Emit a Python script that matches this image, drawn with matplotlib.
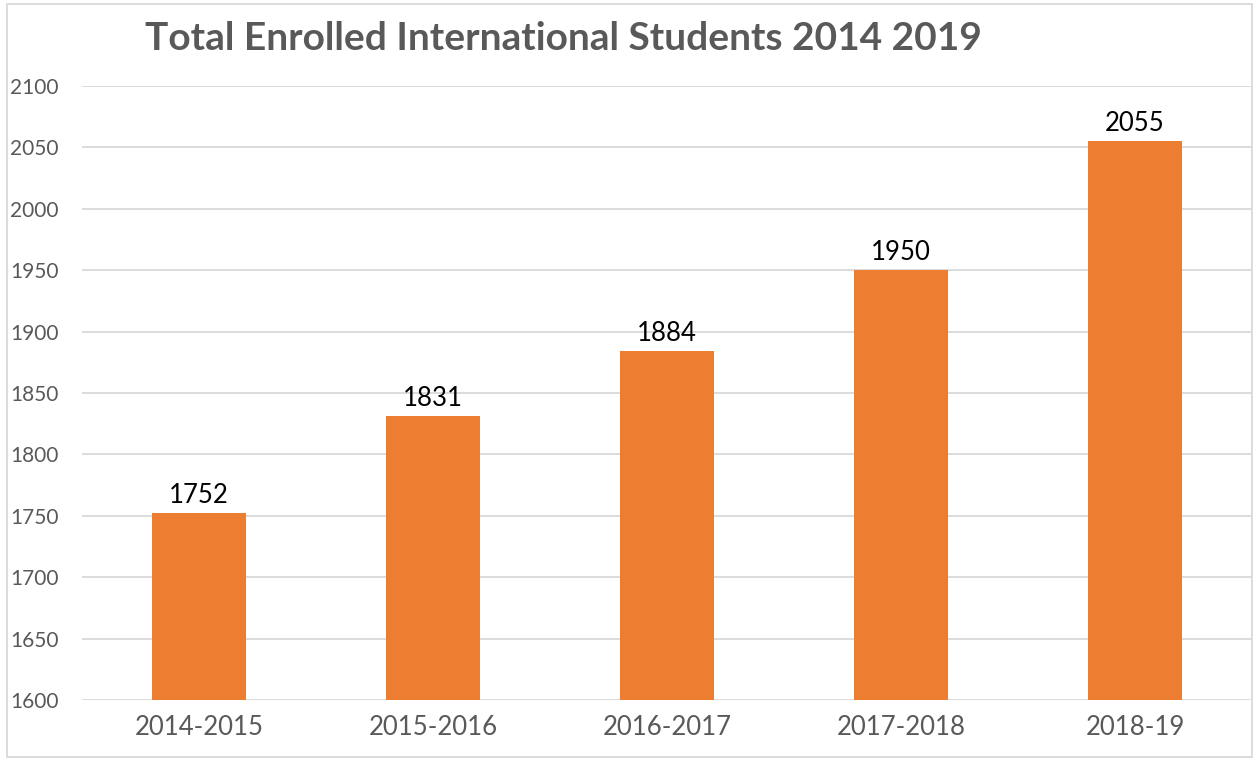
import matplotlib
matplotlib.use("Agg")
import matplotlib.pyplot as plt
from matplotlib.patches import Rectangle

categories = ["2014-2015", "2015-2016", "2016-2017", "2017-2018", "2018-19"]
values = [1752, 1831, 1884, 1950, 2055]
yticks = [1600, 1650, 1700, 1750, 1800, 1850, 1900, 1950, 2000, 2050, 2100]
title = "Total Enrolled International Students 2014 2019"

plt.rcParams['font.family'] = ['Lato', 'DejaVu Sans']

W, H = 1254, 759
fig = plt.figure(figsize=(W/100, H/100), dpi=100)
ax = fig.add_axes([82/W, 1-700/H, (1252-82)/W, (700-86)/H])

x = list(range(len(categories)))
bars = ax.bar(x, [v - 1600 for v in values], bottom=1600, width=0.4, color="#ED7D31", zorder=3)
ax.set_xlim(-0.5, len(categories) - 0.5)
ax.set_ylim(1600, 2100)
ax.set_yticks(yticks)
ax.set_yticklabels([str(t) for t in yticks], fontsize=15, color="#595959")
ax.set_xticks(x)
ax.set_xticklabels(categories, fontsize=18.5, color="#595959")
ax.tick_params(axis='both', length=0)
ax.tick_params(axis='y', pad=17)
ax.tick_params(axis='x', pad=11)
ax.grid(axis='y', color="#D9D9D9", linewidth=1.3, zorder=0)
for s in ax.spines.values():
    s.set_visible(False)

for xi, v in zip(x, values):
    ax.annotate(str(v), (xi, v), xytext=(0, 4), textcoords='offset points',
                ha='center', va='bottom', fontsize=18.5, color='black')

fig.text(145/W, 1-38/H, title, fontsize=28, fontweight='bold', color="#595959",
         ha='left', va='center')

fig.patches.append(Rectangle((7/W, 2/H), (1252-7)/W, (755-2)/H, transform=fig.transFigure,
                             fill=False, edgecolor="#D9D9D9", linewidth=1.3))

fig.savefig("out.png", dpi=100)
